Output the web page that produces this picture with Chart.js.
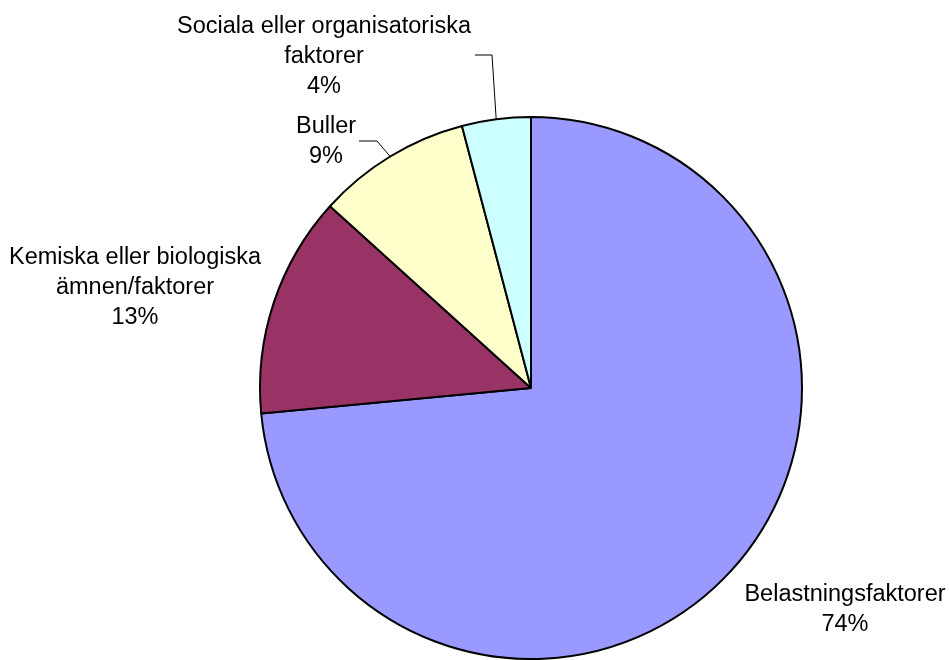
<!DOCTYPE html>
<html lang="sv">
<head>
  <meta charset="UTF-8" />
  <title>Arbetsskador per orsak</title>
  <script src="https://cdn.jsdelivr.net/npm/chart.js"></script>
  <style>
body {
  margin: 0;
  background: #ffffff;
}

.ruta {
  width: 949px;
  height: 660px;
}
  </style>
</head>
<body>
<div class="ruta">
  <canvas id="grafCirkel" width="949" height="660"></canvas>
</div>

<script>
// Data
const kategorier = [
  ['Belastningsfaktorer'],
  ['Kemiska eller biologiska', 'ämnen/faktorer'],
  ['Buller'],
  ['Sociala eller organisatoriska', 'faktorer']
];
const andelar = [73.5, 13.2, 9.2, 4.1];
const farger = ['#9999FF', '#993366', '#FFFFCC', '#CCFFFF'];

// Placering av etiketter (mitt på första raden) och knäpunkt för linje
const etikettPlats = [
  { x: 845, y: 595, linje: null },
  { x: 135, y: 258, linje: null },
  { x: 326, y: 127, linje: [[359, 141], [377, 141]] },
  { x: 324, y: 27, linje: [[475, 55], [492, 55]] }
];

const radAvstand = 30;

// Plugin: etiketter med procent och hänvisningslinjer
const etiketter = {
  id: 'etiketter',
  afterDraw(chart) {
    const { ctx } = chart;
    const meta = chart.getDatasetMeta(0);
    const data = chart.data.datasets[0].data;
    const summa = data.reduce((a, b) => a + b, 0);

    ctx.save();
    ctx.font = '23.5px "Liberation Sans", Arial, sans-serif';
    ctx.fillStyle = '#000000';
    ctx.textAlign = 'center';
    ctx.textBaseline = 'middle';

    meta.data.forEach((arc, i) => {
      const p = etikettPlats[i];
      const rader = kategorier[i].concat([Math.round(data[i] / summa * 100) + '%']);
      rader.forEach((t, j) => ctx.fillText(t, p.x, p.y + j * radAvstand));

      if (p.linje) {
        const { x, y, startAngle, endAngle, outerRadius } = arc.getProps(['x', 'y', 'startAngle', 'endAngle', 'outerRadius'], true);
        const mitt = (startAngle + endAngle) / 2;
        const ex = x + Math.cos(mitt) * outerRadius;
        const ey = y + Math.sin(mitt) * outerRadius;
        ctx.beginPath();
        ctx.strokeStyle = '#000000';
        ctx.lineWidth = 1;
        ctx.moveTo(p.linje[0][0], p.linje[0][1]);
        ctx.lineTo(p.linje[1][0], p.linje[1][1]);
        ctx.lineTo(ex, ey);
        ctx.stroke();
      }
    });
    ctx.restore();
  }
};

const ctx = document.getElementById('grafCirkel').getContext('2d');

new Chart(ctx, {
  type: 'pie',
  data: {
    labels: kategorier.map(k => k.join(' ')),
    datasets: [{
      data: andelar,
      backgroundColor: farger,
      borderColor: '#000000',
      borderWidth: 2
    }]
  },
  options: {
    responsive: false,
    animation: false,
    events: [],
    layout: {
      padding: { left: 259, right: 146, top: 116, bottom: 0 }
    },
    plugins: {
      legend: { display: false },
      tooltip: { enabled: false }
    }
  },
  plugins: [etiketter]
});
</script>

</body>
</html>
